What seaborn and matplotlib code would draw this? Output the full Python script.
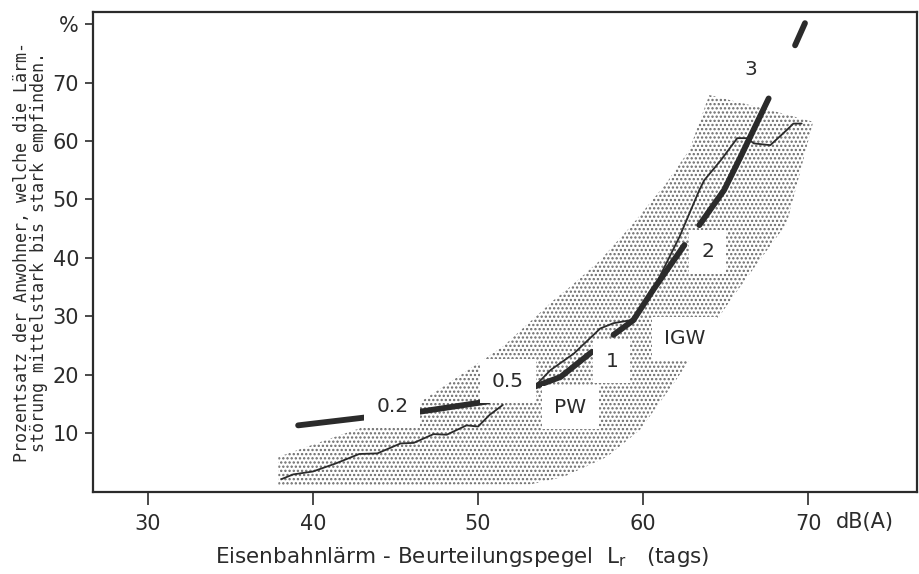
import matplotlib
matplotlib.use("Agg")
import matplotlib.pyplot as plt
import seaborn as sns
import pandas as pd

# stippled band of observed scatter (dB(A), %)
band_db = [37.9, 53.2, 55.2, 57.8, 59.8, 62.0, 62.8, 65.3, 67.5, 68.7, 70.3,
           67.7, 64.0, 62.8, 61.4, 59.4, 57.4, 55.6, 54.6, 51.5, 48.5, 45.5,
           41.4, 37.9]
band_pct = [1.0, 1.2, 2.5, 5.9, 10.5, 19.1, 22.5, 32.8, 41.3, 45.9, 63.3,
            65.3, 67.9, 58.5, 52.8, 45.9, 39.6, 35.1, 32.8, 24.8, 19.1, 13.4,
            9.4, 5.9]

# thin line: observed annoyance curve (two pieces)
obs_db = [38.1, 38.8, 40.0, 41.4, 42.8, 43.9, 45.3, 46.1, 47.3, 48.1, 49.3,
          50.0, 50.7, 51.5,
          53.4, 54.4, 55.8, 57.4, 58.2, 59.2, 59.6, 60.6, 62.2, 63.4, 63.7,
          64.7, 65.7, 66.3, 66.7, 67.7, 68.7, 69.1, 69.6]
obs_pct = [2.1, 2.9, 3.4, 4.8, 6.4, 6.5, 8.2, 8.3, 9.8, 9.7, 11.3,
           11.1, 13.1, 14.8,
           17.9, 20.8, 23.6, 27.9, 28.8, 29.3, 30.2, 34.5, 43.6, 51.6, 53.3,
           56.7, 60.5, 60.5, 59.6, 59.3, 61.9, 63.0, 63.0]
obs_seg = [0] * 14 + [1] * 19

# thick line: reference curve, broken at the labels
ref_db = [39.1, 43.6, 45.9, 50.6, 53.4, 55.0, 56.9, 58.2, 59.4, 60.6, 62.5,
          63.4, 64.9, 65.9, 67.6, 69.2, 69.8]
ref_pct = [11.3, 12.8, 13.4, 15.4, 17.9, 19.6, 23.9, 26.8, 29.3, 34.5, 42.2,
           45.6, 51.6, 57.3, 67.3, 76.4, 80.2]
ref_seg = [0, 0, 1, 1, 2, 2, 2, 3, 3, 3, 3, 4, 4, 4, 4, 5, 5]

labels = ["0.2", "0.5", "PW", "1", "IGW", "2", "3"]
label_db = [44.8, 51.8, 55.6, 58.1, 62.5, 63.9, 66.5]
label_pct = [14.6, 18.9, 14.3, 22.3, 26.1, 41.0, 72.3]

xticks = [30, 40, 50, 60, 70]
yticks = [10, 20, 30, 40, 50, 60, 70, 80]
ytick_labels = ["10", "20", "30", "40", "50", "60", "70", "%"]

sns.set_theme(style="ticks")
plt.rcParams["font.family"] = ["DejaVu Sans"]
plt.rcParams["hatch.linewidth"] = 1.1

ink = "#2b2b2b"
obs = pd.DataFrame({"db": obs_db, "pct": obs_pct, "seg": obs_seg})
ref = pd.DataFrame({"db": ref_db, "pct": ref_pct, "seg": ref_seg})

fig = plt.figure(figsize=(9.2, 5.74), dpi=100)
ax = fig.add_axes([0.101, 0.143, 0.896, 0.836])

ax.fill(band_db, band_pct, facecolor="white", edgecolor="#6a6a6a",
        hatch="....", linewidth=0, zorder=1)

sns.lineplot(data=obs, x="db", y="pct", units="seg", estimator=None,
             sort=False, color=ink, linewidth=1.3, ax=ax, zorder=3)
sns.lineplot(data=ref, x="db", y="pct", units="seg", estimator=None,
             sort=False, color=ink, linewidth=4.2, ax=ax, zorder=4,
             solid_capstyle="round")

for txt, x, y in zip(labels, label_db, label_pct):
    box = None
    if txt != "3":
        box = dict(boxstyle="square,pad=0.6", facecolor="white",
                   edgecolor="none")
    ax.text(x, y, txt, ha="center", va="center", fontsize=14.5, color=ink,
            bbox=box, zorder=5)

ax.set_xlim(26.67, 76.6)
ax.set_ylim(-0.1, 82.1)
ax.set_xticks(xticks)
ax.set_xticklabels([str(t) for t in xticks])
ax.set_yticks(yticks)
ax.set_yticklabels(ytick_labels)
ax.tick_params(axis="x", direction="out", length=9, width=1.2, pad=7,
               labelsize=15, colors=ink)
ax.tick_params(axis="y", direction="out", length=6, width=1.2, pad=4,
               labelsize=15, colors=ink)
for side in ["left", "right", "top", "bottom"]:
    ax.spines[side].set_visible(True)
    ax.spines[side].set_linewidth(1.6)
    ax.spines[side].set_color(ink)

ax.text(73.4, -5.2, "dB(A)", ha="center", va="center", fontsize=15,
        color=ink, clip_on=False)

ax.set_xlabel("Eisenbahnlärm - Beurteilungspegel  L$_\\mathregular{r}$   (tags)",
              fontsize=15.5, color=ink, labelpad=8)
ax.xaxis.label.set_x(0.448)
ax.set_ylabel("Prozentsatz der Anwohner, welche die Lärm-\n"
              "störung mittelstark bis stark empfinden.",
              fontsize=12, color=ink, labelpad=3, linespacing=0.95,
              family=["DejaVu Sans Mono"])

fig.savefig("out.png", dpi=100, facecolor="white")
